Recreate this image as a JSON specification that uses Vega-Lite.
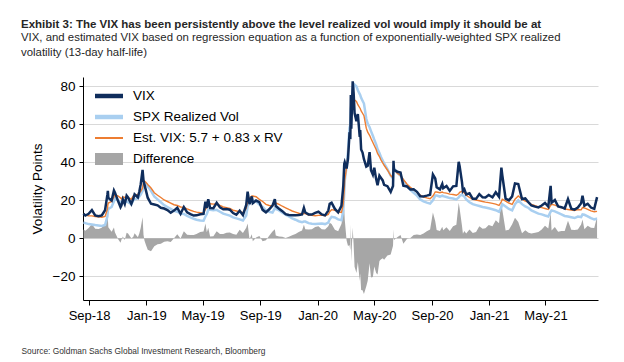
{
  "$schema": "https://vega.github.io/schema/vega-lite/v6.json",
  "width": 515,
  "height": 223,
  "autosize": {"type": "none"},
  "padding": {"left": 83, "top": 77, "right": 26, "bottom": 62},
  "background": "white",
  "config": {
    "font": "Liberation Sans",
    "view": {"stroke": null}
  },
  "title": {
    "text": "Exhibit 3: The VIX has been persistently above the level realized vol would imply it should be at",
    "subtitle": ["VIX, and estimated VIX based on regression equation as a function of exponentially-weighted SPX realized", "volatility (13-day half-life)"],
    "anchor": "start",
    "frame": "group",
    "dx": -62,
    "offset": 18,
    "font": "Liberation Sans",
    "fontSize": 11.5,
    "fontWeight": "bold",
    "color": "#262626",
    "subtitleFont": "Liberation Sans",
    "subtitleFontSize": 11.4,
    "subtitleColor": "#262626",
    "subtitlePadding": 1,
    "subtitleLineHeight": 15
  },
  "data": {
    "values": [
      {"d": "2018-08-20", "v": 13.0, "r": 8.4, "e": 12.7, "f": 4.6},
      {"d": "2018-08-24", "v": 12.0, "r": 8.0, "e": 12.3, "f": 4.0},
      {"d": "2018-08-31", "v": 12.9, "r": 7.5, "e": 11.9, "f": 5.4},
      {"d": "2018-09-07", "v": 14.9, "r": 7.3, "e": 11.8, "f": 7.6},
      {"d": "2018-09-14", "v": 12.1, "r": 7.0, "e": 11.5, "f": 5.1},
      {"d": "2018-09-21", "v": 11.7, "r": 6.8, "e": 11.3, "f": 4.9},
      {"d": "2018-09-28", "v": 12.1, "r": 6.5, "e": 11.1, "f": 5.6},
      {"d": "2018-10-05", "v": 14.8, "r": 7.0, "e": 11.5, "f": 7.8},
      {"d": "2018-10-10", "v": 23.0, "r": 11.5, "e": 15.2, "f": 11.5},
      {"d": "2018-10-11", "v": 25.0, "r": 14.5, "e": 17.7, "f": 10.5},
      {"d": "2018-10-12", "v": 21.3, "r": 15.5, "e": 18.6, "f": 5.8},
      {"d": "2018-10-19", "v": 19.9, "r": 16.5, "e": 19.4, "f": 3.4},
      {"d": "2018-10-24", "v": 25.2, "r": 19.5, "e": 21.9, "f": 5.7},
      {"d": "2018-10-26", "v": 24.2, "r": 21.0, "e": 23.1, "f": 3.2},
      {"d": "2018-11-02", "v": 19.5, "r": 20.0, "e": 22.3, "f": -0.5},
      {"d": "2018-11-07", "v": 16.4, "r": 18.8, "e": 21.3, "f": -2.4},
      {"d": "2018-11-09", "v": 17.4, "r": 18.2, "e": 20.8, "f": -0.8},
      {"d": "2018-11-12", "v": 20.5, "r": 19.5, "e": 21.9, "f": 1.0},
      {"d": "2018-11-16", "v": 18.1, "r": 19.0, "e": 21.5, "f": -0.9},
      {"d": "2018-11-20", "v": 22.5, "r": 19.5, "e": 21.9, "f": 3.0},
      {"d": "2018-11-23", "v": 21.5, "r": 19.0, "e": 21.5, "f": 2.5},
      {"d": "2018-11-30", "v": 18.1, "r": 18.0, "e": 20.6, "f": 0.1},
      {"d": "2018-12-04", "v": 20.7, "r": 20.0, "e": 22.3, "f": 0.7},
      {"d": "2018-12-07", "v": 23.2, "r": 20.5, "e": 22.7, "f": 2.7},
      {"d": "2018-12-14", "v": 21.6, "r": 21.0, "e": 23.1, "f": 0.6},
      {"d": "2018-12-17", "v": 24.5, "r": 22.0, "e": 24.0, "f": 2.5},
      {"d": "2018-12-20", "v": 28.4, "r": 23.0, "e": 24.8, "f": 5.4},
      {"d": "2018-12-24", "v": 36.1, "r": 25.0, "e": 26.5, "f": 11.1},
      {"d": "2018-12-26", "v": 30.4, "r": 28.5, "e": 29.4, "f": 1.9},
      {"d": "2018-12-28", "v": 28.3, "r": 29.5, "e": 30.2, "f": -1.2},
      {"d": "2018-12-31", "v": 25.4, "r": 28.8, "e": 29.6, "f": -3.4},
      {"d": "2019-01-04", "v": 21.4, "r": 27.4, "e": 28.4, "f": -6.0},
      {"d": "2019-01-11", "v": 18.2, "r": 25.0, "e": 26.5, "f": -6.8},
      {"d": "2019-01-18", "v": 17.8, "r": 22.0, "e": 24.0, "f": -4.2},
      {"d": "2019-01-25", "v": 17.4, "r": 20.5, "e": 22.7, "f": -3.1},
      {"d": "2019-02-01", "v": 16.1, "r": 19.0, "e": 21.5, "f": -2.9},
      {"d": "2019-02-08", "v": 15.7, "r": 17.5, "e": 20.2, "f": -1.8},
      {"d": "2019-02-15", "v": 14.9, "r": 16.5, "e": 19.4, "f": -1.6},
      {"d": "2019-02-22", "v": 13.5, "r": 15.5, "e": 18.6, "f": -2.0},
      {"d": "2019-03-01", "v": 14.6, "r": 14.5, "e": 17.7, "f": 0.1},
      {"d": "2019-03-08", "v": 16.1, "r": 14.0, "e": 17.3, "f": 2.1},
      {"d": "2019-03-15", "v": 12.9, "r": 13.0, "e": 16.5, "f": -0.1},
      {"d": "2019-03-22", "v": 16.5, "r": 12.8, "e": 16.3, "f": 3.7},
      {"d": "2019-03-29", "v": 13.7, "r": 11.8, "e": 15.5, "f": 1.9},
      {"d": "2019-04-05", "v": 12.8, "r": 11.0, "e": 14.8, "f": 1.8},
      {"d": "2019-04-12", "v": 12.0, "r": 10.3, "e": 14.2, "f": 1.7},
      {"d": "2019-04-18", "v": 12.1, "r": 9.8, "e": 13.8, "f": 2.3},
      {"d": "2019-04-26", "v": 12.7, "r": 9.4, "e": 13.5, "f": 3.3},
      {"d": "2019-05-03", "v": 12.9, "r": 9.3, "e": 13.4, "f": 3.6},
      {"d": "2019-05-07", "v": 19.3, "r": 11.5, "e": 15.2, "f": 7.8},
      {"d": "2019-05-10", "v": 16.0, "r": 12.8, "e": 16.3, "f": 3.2},
      {"d": "2019-05-13", "v": 20.6, "r": 15.0, "e": 18.2, "f": 5.6},
      {"d": "2019-05-17", "v": 16.0, "r": 15.0, "e": 18.2, "f": 1.0},
      {"d": "2019-05-24", "v": 15.9, "r": 14.8, "e": 18.0, "f": 1.1},
      {"d": "2019-05-31", "v": 18.7, "r": 15.0, "e": 18.2, "f": 3.7},
      {"d": "2019-06-07", "v": 16.3, "r": 14.0, "e": 17.3, "f": 2.3},
      {"d": "2019-06-14", "v": 15.3, "r": 13.0, "e": 16.5, "f": 2.3},
      {"d": "2019-06-21", "v": 15.4, "r": 12.5, "e": 16.1, "f": 2.9},
      {"d": "2019-06-28", "v": 15.1, "r": 12.0, "e": 15.7, "f": 3.1},
      {"d": "2019-07-05", "v": 13.3, "r": 11.0, "e": 14.8, "f": 2.3},
      {"d": "2019-07-12", "v": 12.4, "r": 10.5, "e": 14.4, "f": 1.9},
      {"d": "2019-07-19", "v": 14.5, "r": 10.0, "e": 14.0, "f": 4.5},
      {"d": "2019-07-26", "v": 12.2, "r": 9.4, "e": 13.5, "f": 2.8},
      {"d": "2019-08-02", "v": 17.6, "r": 12.0, "e": 15.7, "f": 5.6},
      {"d": "2019-08-05", "v": 24.6, "r": 16.8, "e": 19.6, "f": 7.8},
      {"d": "2019-08-09", "v": 18.0, "r": 18.5, "e": 21.1, "f": -0.5},
      {"d": "2019-08-14", "v": 22.1, "r": 20.0, "e": 22.3, "f": 2.1},
      {"d": "2019-08-16", "v": 18.5, "r": 20.0, "e": 22.3, "f": -1.5},
      {"d": "2019-08-23", "v": 19.9, "r": 19.5, "e": 21.9, "f": 0.4},
      {"d": "2019-08-30", "v": 19.0, "r": 17.8, "e": 20.5, "f": 1.2},
      {"d": "2019-09-06", "v": 15.0, "r": 16.5, "e": 19.4, "f": -1.5},
      {"d": "2019-09-13", "v": 13.7, "r": 14.7, "e": 17.9, "f": -1.0},
      {"d": "2019-09-20", "v": 15.3, "r": 14.0, "e": 17.3, "f": 1.3},
      {"d": "2019-09-27", "v": 17.2, "r": 13.6, "e": 17.0, "f": 3.6},
      {"d": "2019-10-02", "v": 20.6, "r": 15.8, "e": 18.8, "f": 4.8},
      {"d": "2019-10-04", "v": 17.0, "r": 15.5, "e": 18.6, "f": 1.5},
      {"d": "2019-10-11", "v": 15.6, "r": 14.7, "e": 17.9, "f": 0.9},
      {"d": "2019-10-18", "v": 14.3, "r": 13.5, "e": 16.9, "f": 0.8},
      {"d": "2019-10-25", "v": 12.7, "r": 12.5, "e": 16.1, "f": 0.2},
      {"d": "2019-11-01", "v": 12.3, "r": 11.5, "e": 15.2, "f": 0.8},
      {"d": "2019-11-08", "v": 12.1, "r": 10.5, "e": 14.4, "f": 1.6},
      {"d": "2019-11-15", "v": 12.1, "r": 9.8, "e": 13.8, "f": 2.3},
      {"d": "2019-11-22", "v": 12.3, "r": 9.0, "e": 13.2, "f": 3.3},
      {"d": "2019-11-29", "v": 12.6, "r": 8.5, "e": 12.8, "f": 4.1},
      {"d": "2019-12-03", "v": 16.0, "r": 8.8, "e": 13.0, "f": 7.2},
      {"d": "2019-12-06", "v": 13.6, "r": 8.8, "e": 13.0, "f": 4.8},
      {"d": "2019-12-13", "v": 12.6, "r": 8.0, "e": 12.3, "f": 4.6},
      {"d": "2019-12-20", "v": 12.5, "r": 7.7, "e": 12.1, "f": 4.8},
      {"d": "2019-12-27", "v": 13.4, "r": 7.5, "e": 11.9, "f": 5.9},
      {"d": "2020-01-03", "v": 14.0, "r": 7.7, "e": 12.1, "f": 6.3},
      {"d": "2020-01-10", "v": 12.6, "r": 7.8, "e": 12.2, "f": 4.8},
      {"d": "2020-01-17", "v": 12.1, "r": 7.5, "e": 11.9, "f": 4.6},
      {"d": "2020-01-24", "v": 14.6, "r": 8.3, "e": 12.6, "f": 6.3},
      {"d": "2020-01-27", "v": 18.2, "r": 10.0, "e": 14.0, "f": 8.2},
      {"d": "2020-01-31", "v": 18.8, "r": 11.3, "e": 15.1, "f": 7.5},
      {"d": "2020-02-07", "v": 15.5, "r": 11.0, "e": 14.8, "f": 4.5},
      {"d": "2020-02-14", "v": 13.7, "r": 10.0, "e": 14.0, "f": 3.7},
      {"d": "2020-02-21", "v": 17.1, "r": 9.5, "e": 13.6, "f": 7.6},
      {"d": "2020-02-24", "v": 25.0, "r": 13.4, "e": 16.8, "f": 11.6},
      {"d": "2020-02-25", "v": 27.9, "r": 15.0, "e": 18.2, "f": 12.9},
      {"d": "2020-02-27", "v": 39.2, "r": 24.0, "e": 25.6, "f": 15.2},
      {"d": "2020-02-28", "v": 40.1, "r": 30.0, "e": 30.6, "f": 10.1},
      {"d": "2020-03-03", "v": 36.8, "r": 38.0, "e": 37.2, "f": -1.2},
      {"d": "2020-03-06", "v": 41.9, "r": 46.0, "e": 43.9, "f": -4.1},
      {"d": "2020-03-09", "v": 54.5, "r": 58.0, "e": 53.8, "f": -3.5},
      {"d": "2020-03-11", "v": 53.9, "r": 60.0, "e": 55.5, "f": -6.1},
      {"d": "2020-03-12", "v": 75.5, "r": 68.0, "e": 62.1, "f": 7.5},
      {"d": "2020-03-13", "v": 57.8, "r": 70.0, "e": 63.8, "f": -12.2},
      {"d": "2020-03-16", "v": 82.7, "r": 77.0, "e": 69.6, "f": 5.7},
      {"d": "2020-03-18", "v": 76.5, "r": 80.0, "e": 72.1, "f": -3.5},
      {"d": "2020-03-20", "v": 66.0, "r": 81.0, "e": 72.9, "f": -15.0},
      {"d": "2020-03-24", "v": 61.7, "r": 80.0, "e": 72.1, "f": -18.3},
      {"d": "2020-03-27", "v": 65.5, "r": 78.0, "e": 70.4, "f": -12.5},
      {"d": "2020-03-31", "v": 53.5, "r": 76.0, "e": 68.8, "f": -22.5},
      {"d": "2020-04-01", "v": 57.1, "r": 75.5, "e": 68.4, "f": -18.4},
      {"d": "2020-04-03", "v": 46.8, "r": 74.0, "e": 67.1, "f": -27.2},
      {"d": "2020-04-06", "v": 45.2, "r": 72.5, "e": 65.9, "f": -27.3},
      {"d": "2020-04-09", "v": 41.7, "r": 71.0, "e": 64.6, "f": -29.3},
      {"d": "2020-04-14", "v": 37.8, "r": 63.0, "e": 58.0, "f": -25.2},
      {"d": "2020-04-17", "v": 38.2, "r": 60.5, "e": 55.9, "f": -22.3},
      {"d": "2020-04-21", "v": 45.4, "r": 58.5, "e": 54.3, "f": -13.1},
      {"d": "2020-04-24", "v": 35.9, "r": 56.5, "e": 52.6, "f": -20.6},
      {"d": "2020-04-28", "v": 33.6, "r": 54.0, "e": 50.5, "f": -20.4},
      {"d": "2020-05-01", "v": 37.2, "r": 52.0, "e": 48.9, "f": -14.8},
      {"d": "2020-05-05", "v": 31.2, "r": 49.5, "e": 46.8, "f": -18.3},
      {"d": "2020-05-08", "v": 28.0, "r": 47.0, "e": 44.7, "f": -19.0},
      {"d": "2020-05-12", "v": 33.0, "r": 45.0, "e": 43.1, "f": -12.0},
      {"d": "2020-05-15", "v": 31.9, "r": 43.0, "e": 41.4, "f": -11.1},
      {"d": "2020-05-19", "v": 30.5, "r": 41.0, "e": 39.7, "f": -10.5},
      {"d": "2020-05-22", "v": 28.2, "r": 39.5, "e": 38.5, "f": -11.3},
      {"d": "2020-05-29", "v": 27.5, "r": 36.5, "e": 36.0, "f": -9.0},
      {"d": "2020-06-05", "v": 24.5, "r": 33.0, "e": 33.1, "f": -8.5},
      {"d": "2020-06-10", "v": 27.6, "r": 31.5, "e": 31.8, "f": -3.9},
      {"d": "2020-06-11", "v": 40.8, "r": 36.0, "e": 35.6, "f": 4.8},
      {"d": "2020-06-12", "v": 36.1, "r": 37.0, "e": 36.4, "f": -0.9},
      {"d": "2020-06-19", "v": 35.1, "r": 34.5, "e": 34.3, "f": 0.6},
      {"d": "2020-06-26", "v": 34.7, "r": 33.0, "e": 33.1, "f": 1.7},
      {"d": "2020-07-02", "v": 27.7, "r": 30.5, "e": 31.0, "f": -2.8},
      {"d": "2020-07-10", "v": 27.3, "r": 27.5, "e": 28.5, "f": -0.2},
      {"d": "2020-07-17", "v": 25.7, "r": 25.5, "e": 26.9, "f": 0.2},
      {"d": "2020-07-24", "v": 25.8, "r": 24.0, "e": 25.6, "f": 1.8},
      {"d": "2020-07-31", "v": 24.5, "r": 22.5, "e": 24.4, "f": 2.0},
      {"d": "2020-08-07", "v": 22.2, "r": 20.5, "e": 22.7, "f": 1.7},
      {"d": "2020-08-14", "v": 22.1, "r": 19.5, "e": 21.9, "f": 2.6},
      {"d": "2020-08-21", "v": 22.5, "r": 18.8, "e": 21.3, "f": 3.7},
      {"d": "2020-08-28", "v": 23.0, "r": 18.3, "e": 20.9, "f": 4.7},
      {"d": "2020-09-03", "v": 33.6, "r": 20.0, "e": 22.3, "f": 13.6},
      {"d": "2020-09-08", "v": 31.5, "r": 22.5, "e": 24.4, "f": 9.0},
      {"d": "2020-09-11", "v": 26.9, "r": 22.5, "e": 24.4, "f": 4.4},
      {"d": "2020-09-18", "v": 25.8, "r": 22.0, "e": 24.0, "f": 3.8},
      {"d": "2020-09-23", "v": 28.6, "r": 22.5, "e": 24.4, "f": 6.1},
      {"d": "2020-09-25", "v": 26.4, "r": 22.2, "e": 24.1, "f": 4.2},
      {"d": "2020-10-02", "v": 27.6, "r": 21.8, "e": 23.8, "f": 5.8},
      {"d": "2020-10-09", "v": 25.0, "r": 21.2, "e": 23.3, "f": 3.8},
      {"d": "2020-10-16", "v": 27.4, "r": 21.0, "e": 23.1, "f": 6.4},
      {"d": "2020-10-23", "v": 27.6, "r": 20.5, "e": 22.7, "f": 7.1},
      {"d": "2020-10-28", "v": 40.3, "r": 21.5, "e": 23.5, "f": 18.8},
      {"d": "2020-10-30", "v": 38.0, "r": 22.3, "e": 24.2, "f": 15.7},
      {"d": "2020-11-04", "v": 29.6, "r": 23.0, "e": 24.8, "f": 6.6},
      {"d": "2020-11-06", "v": 24.9, "r": 22.5, "e": 24.4, "f": 2.4},
      {"d": "2020-11-09", "v": 25.8, "r": 22.0, "e": 24.0, "f": 3.8},
      {"d": "2020-11-13", "v": 23.1, "r": 20.5, "e": 22.7, "f": 2.6},
      {"d": "2020-11-20", "v": 23.7, "r": 19.0, "e": 21.5, "f": 4.7},
      {"d": "2020-11-27", "v": 20.8, "r": 18.0, "e": 20.6, "f": 2.8},
      {"d": "2020-12-04", "v": 20.8, "r": 17.5, "e": 20.2, "f": 3.3},
      {"d": "2020-12-11", "v": 23.3, "r": 17.0, "e": 19.8, "f": 6.3},
      {"d": "2020-12-18", "v": 21.6, "r": 16.5, "e": 19.4, "f": 5.1},
      {"d": "2020-12-24", "v": 21.5, "r": 16.2, "e": 19.1, "f": 5.3},
      {"d": "2020-12-31", "v": 22.8, "r": 15.8, "e": 18.8, "f": 7.0},
      {"d": "2021-01-08", "v": 21.6, "r": 15.3, "e": 18.4, "f": 6.3},
      {"d": "2021-01-15", "v": 24.3, "r": 14.8, "e": 18.0, "f": 9.5},
      {"d": "2021-01-22", "v": 21.9, "r": 14.0, "e": 17.3, "f": 7.9},
      {"d": "2021-01-27", "v": 37.2, "r": 16.5, "e": 19.4, "f": 20.7},
      {"d": "2021-01-29", "v": 33.1, "r": 18.0, "e": 20.6, "f": 15.1},
      {"d": "2021-02-05", "v": 20.9, "r": 16.8, "e": 19.6, "f": 4.1},
      {"d": "2021-02-12", "v": 20.0, "r": 15.5, "e": 18.6, "f": 4.5},
      {"d": "2021-02-19", "v": 22.1, "r": 14.7, "e": 17.9, "f": 7.4},
      {"d": "2021-02-25", "v": 28.9, "r": 18.0, "e": 20.6, "f": 10.9},
      {"d": "2021-03-04", "v": 28.6, "r": 20.0, "e": 22.3, "f": 8.6},
      {"d": "2021-03-12", "v": 20.7, "r": 18.0, "e": 20.6, "f": 2.7},
      {"d": "2021-03-19", "v": 21.0, "r": 16.8, "e": 19.6, "f": 4.2},
      {"d": "2021-03-26", "v": 18.9, "r": 16.0, "e": 19.0, "f": 2.9},
      {"d": "2021-04-01", "v": 17.3, "r": 14.7, "e": 17.9, "f": 2.6},
      {"d": "2021-04-09", "v": 16.7, "r": 13.8, "e": 17.2, "f": 2.9},
      {"d": "2021-04-16", "v": 16.3, "r": 13.0, "e": 16.5, "f": 3.3},
      {"d": "2021-04-23", "v": 17.3, "r": 12.6, "e": 16.2, "f": 4.7},
      {"d": "2021-04-30", "v": 18.6, "r": 12.0, "e": 15.7, "f": 6.6},
      {"d": "2021-05-07", "v": 16.7, "r": 11.5, "e": 15.2, "f": 5.2},
      {"d": "2021-05-12", "v": 27.6, "r": 14.0, "e": 17.3, "f": 13.6},
      {"d": "2021-05-14", "v": 18.8, "r": 14.7, "e": 17.9, "f": 4.1},
      {"d": "2021-05-21", "v": 20.2, "r": 14.2, "e": 17.5, "f": 6.0},
      {"d": "2021-05-28", "v": 16.8, "r": 13.4, "e": 16.8, "f": 3.4},
      {"d": "2021-06-04", "v": 16.4, "r": 12.6, "e": 16.2, "f": 3.8},
      {"d": "2021-06-11", "v": 15.7, "r": 11.8, "e": 15.5, "f": 3.9},
      {"d": "2021-06-18", "v": 20.7, "r": 11.5, "e": 15.2, "f": 9.2},
      {"d": "2021-06-25", "v": 15.6, "r": 11.1, "e": 14.9, "f": 4.5},
      {"d": "2021-07-02", "v": 15.1, "r": 10.7, "e": 14.6, "f": 4.4},
      {"d": "2021-07-09", "v": 16.2, "r": 11.5, "e": 15.2, "f": 4.7},
      {"d": "2021-07-16", "v": 18.5, "r": 11.2, "e": 15.0, "f": 7.3},
      {"d": "2021-07-19", "v": 22.5, "r": 12.6, "e": 16.2, "f": 9.9},
      {"d": "2021-07-23", "v": 17.2, "r": 12.4, "e": 16.0, "f": 4.8},
      {"d": "2021-07-30", "v": 18.2, "r": 11.6, "e": 15.3, "f": 6.6},
      {"d": "2021-08-06", "v": 16.2, "r": 10.6, "e": 14.5, "f": 5.6},
      {"d": "2021-08-13", "v": 15.5, "r": 10.0, "e": 14.0, "f": 5.5},
      {"d": "2021-08-19", "v": 21.7, "r": 10.3, "e": 14.2, "f": 11.4}
    ]
  },
  "encoding": {
    "x": {
      "field": "d",
      "type": "temporal",
      "scale": {"domain": [{"year": 2018, "month": 8, "date": 19}, {"year": 2021, "month": 8, "date": 21}]},
      "axis": {
        "values": [
          {"year": 2018, "month": 9, "date": 1},
          {"year": 2019, "month": 1, "date": 1},
          {"year": 2019, "month": 5, "date": 1},
          {"year": 2019, "month": 9, "date": 1},
          {"year": 2020, "month": 1, "date": 1},
          {"year": 2020, "month": 5, "date": 1},
          {"year": 2020, "month": 9, "date": 1},
          {"year": 2021, "month": 1, "date": 1},
          {"year": 2021, "month": 5, "date": 1}
        ],
        "format": "%b-%y",
        "grid": false,
        "domainColor": "#000000",
        "domainWidth": 1,
        "tickColor": "#000000",
        "tickSize": 5,
        "labelFont": "Liberation Sans",
        "labelFontSize": 13,
        "labelColor": "#000000",
        "labelPadding": 4,
        "title": "Source: Goldman Sachs Global Investment Research, Bloomberg",
        "titleFont": "Liberation Sans",
        "titleFontSize": 8.4,
        "titleFontWeight": "normal",
        "titleColor": "#333333",
        "titleAnchor": "start",
        "titleAlign": "left",
        "titleBaseline": "alphabetic",
        "titleX": -62,
        "titleY": 53
      }
    }
  },
  "layer": [
    {
      "mark": {"type": "area", "color": "#a6a6a6", "interpolate": "linear"},
      "encoding": {
        "y": {
          "field": "f",
          "type": "quantitative",
          "scale": {"domain": [-32.5, 85], "nice": false, "zero": false},
          "axis": {
            "values": [-20, 0, 20, 40, 60, 80],
            "grid": true,
            "gridColor": "#d9d9d9",
            "gridWidth": 1,
            "domainColor": "#000000",
            "tickColor": "#000000",
            "tickSize": 4,
            "labelFont": "Liberation Sans",
            "labelFontSize": 13.5,
            "labelColor": "#000000",
            "labelPadding": 4,
            "title": "Volatility Points",
            "titleFont": "Liberation Sans",
            "titleFontSize": 13.5,
            "titleFontWeight": "normal",
            "titleColor": "#000000",
            "titleX": -46,
            "titleY": 111.5,
            "titleAngle": -90,
            "titleAlign": "center",
            "titleBaseline": "middle"
          }
        },
        "y2": {"datum": 0}
      }
    },
    {
      "mark": {"type": "rule", "color": "#1f3864", "strokeWidth": 1.5},
      "encoding": {"y": {"datum": 0, "type": "quantitative"}}
    },
    {
      "mark": {"type": "line", "interpolate": "linear", "strokeWidth": 2.5},
      "encoding": {
        "y": {"field": "r", "type": "quantitative", "title": "Volatility Points"},
        "color": {"datum": "SPX Realized Vol", "type": "nominal"}
      }
    },
    {
      "mark": {"type": "line", "interpolate": "linear", "strokeWidth": 1.4},
      "encoding": {
        "y": {"field": "e", "type": "quantitative", "title": "Volatility Points"},
        "color": {"datum": "Est. VIX: 5.7 + 0.83 x RV", "type": "nominal"}
      }
    },
    {
      "mark": {"type": "line", "interpolate": "linear", "strokeWidth": 2.5},
      "encoding": {
        "y": {"field": "v", "type": "quantitative", "title": "Volatility Points"},
        "color": {
          "datum": "VIX",
          "type": "nominal",
          "scale": {
            "domain": ["VIX", "SPX Realized Vol", "Est. VIX: 5.7 + 0.83 x RV", "Difference"],
            "range": ["#0f2d5c", "#a9cff0", "#ed7d31", "#a6a6a6"]
          },
          "legend": {
            "title": null,
            "orient": "none",
            "legendX": 12,
            "legendY": 5,
            "padding": 0,
            "symbolType": "square",
            "symbolSize": 784,
            "symbolStrokeWidth": 0,
            "labelFont": "Liberation Sans",
            "labelFontSize": 13.5,
            "labelColor": "#000000",
            "labelOffset": 10,
            "rowPadding": -4,
            "encode": {
              "symbols": {
                "update": {
                  "shape": {"signal": "datum.value === 'Difference' ? 'M-1,-0.43H1V0.43H-1Z' : datum.value === 'Est. VIX: 5.7 + 0.83 x RV' ? 'M-1,-0.07H1V0.07H-1Z' : 'M-1,-0.16H1V0.16H-1Z'"},
                  "fill": {"scale": "color", "field": "value"},
                  "fillOpacity": {"value": 1},
                  "stroke": {"value": "transparent"},
                  "strokeWidth": {"value": 0}
                }
              }
            }
          }
        }
      }
    }
  ]
}
